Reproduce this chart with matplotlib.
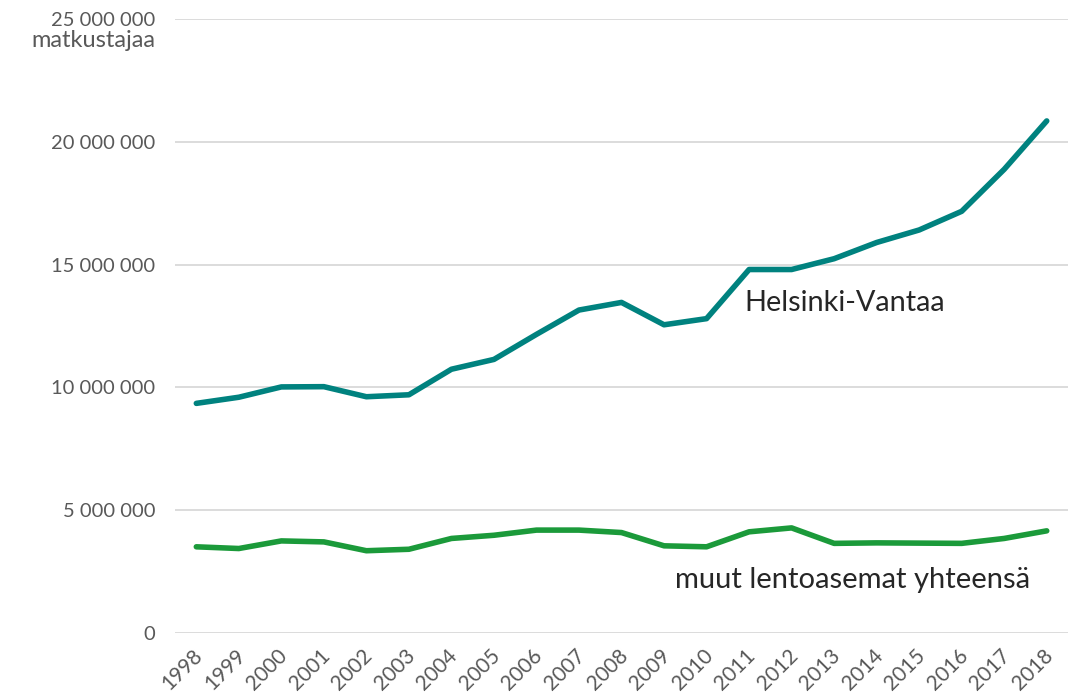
import matplotlib.pyplot as plt
from matplotlib.ticker import FuncFormatter, MultipleLocator
from matplotlib.transforms import ScaledTranslation

plt.rcParams['font.family'] = ['Lato', 'DejaVu Sans']

years = list(range(1998, 2019))

# matkustajat, miljoonaa
helsinki_vantaa = [9.35, 9.60, 10.02, 10.03, 9.62, 9.70, 10.74, 11.14, 12.16, 13.15,
                   13.46, 12.55, 12.80, 14.80, 14.80, 15.24, 15.90, 16.41, 17.17, 18.88, 20.85]
muut = [3.51, 3.44, 3.75, 3.71, 3.35, 3.41, 3.85, 3.98, 4.19, 4.19,
        4.09, 3.55, 3.51, 4.12, 4.28, 3.65, 3.67, 3.66, 3.65, 3.85, 4.16]

hv = [v * 1e6 for v in helsinki_vantaa]
mu = [v * 1e6 for v in muut]
x = list(range(len(years)))

fig = plt.figure(figsize=(10.74, 6.96), dpi=100)
ax = fig.add_axes([0.163, 0.0905, 0.8314, 0.8822])

ax.plot(x, hv, color='#00827F', lw=4, solid_capstyle='round', zorder=3)
ax.plot(x, mu, color='#1B9A3A', lw=4, solid_capstyle='round', zorder=3)

ax.set_xlim(-0.5, len(years) - 0.5)
ax.set_ylim(0, 25e6)
ax.yaxis.set_major_locator(MultipleLocator(5e6))
ax.yaxis.set_major_formatter(FuncFormatter(lambda v, p: f"{int(v):,}".replace(",", " ")))
ax.grid(axis='y', color='#D9D9D9', lw=1.3)
ax.set_axisbelow(True)
for s in ax.spines.values():
    s.set_visible(False)

ax.set_xticks(x)
ax.set_xticklabels([str(y) for y in years], rotation=45, ha='right', va='center',
                   rotation_mode='anchor')
ax.tick_params(axis='x', length=0, pad=14, labelsize=15, labelcolor='#595959')
ax.tick_params(axis='y', length=0, pad=14, labelsize=14.5, labelcolor='#595959')
shift = ScaledTranslation(3 / 100, 0, fig.dpi_scale_trans)
for lab in ax.get_xticklabels():
    lab.set_transform(lab.get_transform() + shift)

ax.annotate("matkustajaa", xy=(0, 25e6), xycoords=('axes fraction', 'data'),
            xytext=(-14.5, -8), textcoords='offset points', ha='right', va='top',
            fontsize=17, color='#595959')

ax.text(12.9, 13.45e6, "Helsinki-Vantaa", fontsize=20.8, color='#262626', va='center', ha='left')
ax.text(11.25, 2.15e6, "muut lentoasemat yhteensä", fontsize=21, color='#262626',
        va='center', ha='left')

fig.savefig("out.png", dpi=100)
